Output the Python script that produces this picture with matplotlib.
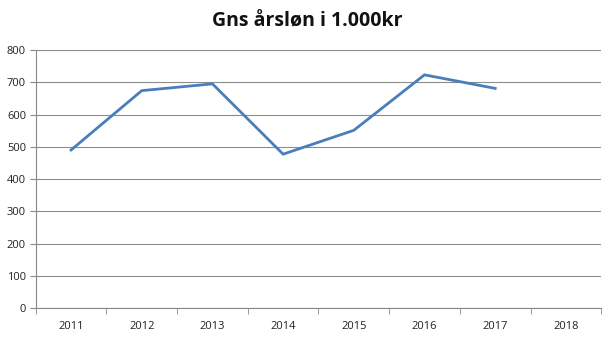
import numpy as np
import matplotlib.pyplot as plt
from matplotlib.ticker import FixedLocator

years = ['2011', '2012', '2013', '2014', '2015', '2016', '2017', '2018']
salary = [490, 674, 695, 477, 551, 723, 681, np.nan]

plt.rcParams['font.family'] = ['Open Sans', 'DejaVu Sans']

fig = plt.figure(figsize=(6.16, 3.39), dpi=100)
ax = fig.add_axes([0.058, 0.0914, 0.918, 0.7611])

x = np.arange(len(years))
ax.plot(x, salary, color='#4A7EBB', linewidth=2.0, solid_joinstyle='miter')

ax.set_xlim(-0.5, len(years) - 0.5)
ax.set_ylim(0, 800)
ax.set_yticks(np.arange(0, 801, 100))
ax.set_xticks(x)
ax.set_xticklabels(years)
ax.xaxis.set_minor_locator(FixedLocator(np.arange(-0.5, len(years), 1.0)))
ax.tick_params(axis='x', which='major', length=0, pad=9, labelsize=8, colors='#222222')
ax.tick_params(axis='x', which='minor', length=4, color='#888888', direction='out')
ax.tick_params(axis='y', length=4, labelsize=8, pad=3, colors='#888888', labelcolor='#222222')

ax.grid(axis='y', color='#8c8c8c', linewidth=0.8)
ax.set_axisbelow(True)
for s in ['top', 'right']:
    ax.spines[s].set_visible(False)
for s in ['left', 'bottom']:
    ax.spines[s].set_color('#888888')
    ax.spines[s].set_linewidth(0.8)

fig.text(0.499, 0.938, 'Gns årsløn i 1.000kr', ha='center', va='center',
         fontsize=14, fontweight='bold', color='#111111')

fig.savefig('out.png', dpi=100)
